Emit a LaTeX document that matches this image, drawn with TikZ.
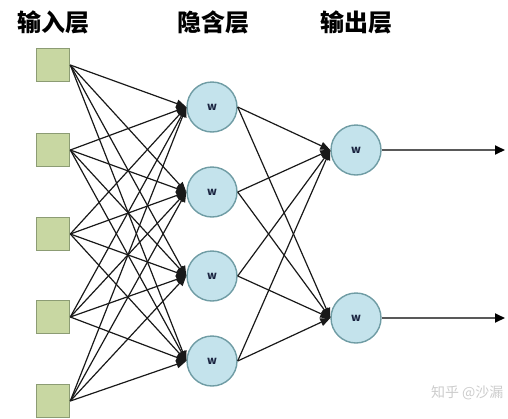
\documentclass[tikz,border=0pt]{standalone}
\usepackage{fontspec}
\newfontfamily\cjk{Noto Sans CJK SC}
\usetikzlibrary{arrows.meta}
\definecolor{sqfill}{HTML}{C8D7A2}
\definecolor{sqdraw}{HTML}{8C9C74}
\definecolor{cfill}{HTML}{C4E3EC}
\definecolor{cdraw}{HTML}{6F9CA4}
\definecolor{wcol}{HTML}{1A2440}
\tikzset{
  inbox/.style={draw=sqdraw, fill=sqfill, line width=1.6pt, minimum size=33pt, inner sep=0pt},
  neuron/.style={circle, draw=cdraw, fill=cfill, line width=1.4pt, minimum size=50pt, inner sep=0pt, font=\cjk\bfseries\fontsize{11}{11}\selectfont, text=wcol},
  conn/.style={draw=black!90, line width=1.2pt, -{Triangle[length=10pt,width=8pt]}},
  outarrow/.style={draw=black!65, line width=1.8pt, -{Triangle[length=10pt,width=9pt,color=black]}},
  header/.style={font=\cjk\bfseries\fontsize{24}{24}\selectfont, anchor=center},
  wmark/.style={font=\cjk\fontsize{14}{14}\selectfont, text=black!20}
}
\begin{document}
\begin{tikzpicture}[x=1pt,y=-1pt]
\useasboundingbox (0,0) rectangle (508,418);
% headers
\node[header] (h1t) at (53,22) {输入层};
\node[header] (h2t) at (213,22) {隐含层};
\node[header] (h3t) at (356,22) {输出层};
% inputs
\foreach \i/\y in {1/65,2/150,3/234,4/317,5/401} {
  \node[inbox] (i\i) at (53,\y) {};
}
% hidden
\foreach \j/\y in {1/107,2/192,3/276,4/361} {
  \node[neuron] (h\j) at (212,\y) {w};
}
% outputs
\foreach \k/\y in {1/150,2/318} {
  \node[neuron] (o\k) at (356,\y) {w};
}
\coordinate (e1) at (505,150);
\coordinate (e2) at (505,318);
% connections
\foreach \i in {1,...,5} {
  \foreach \j in {1,...,4} {
    \draw[conn] (i\i.east) -- (h\j.west);
  }
}
\foreach \j in {1,...,4} {
  \foreach \k in {1,2} {
    \draw[conn] (h\j.east) -- (o\k.west);
  }
}
\draw[outarrow] (o1.east) -- (e1);
\draw[outarrow] (o2.east) -- (e2);
% watermark
\node[wmark, anchor=east] (wm) at (507,393) {知乎 @沙漏};
\end{tikzpicture}
\end{document}
